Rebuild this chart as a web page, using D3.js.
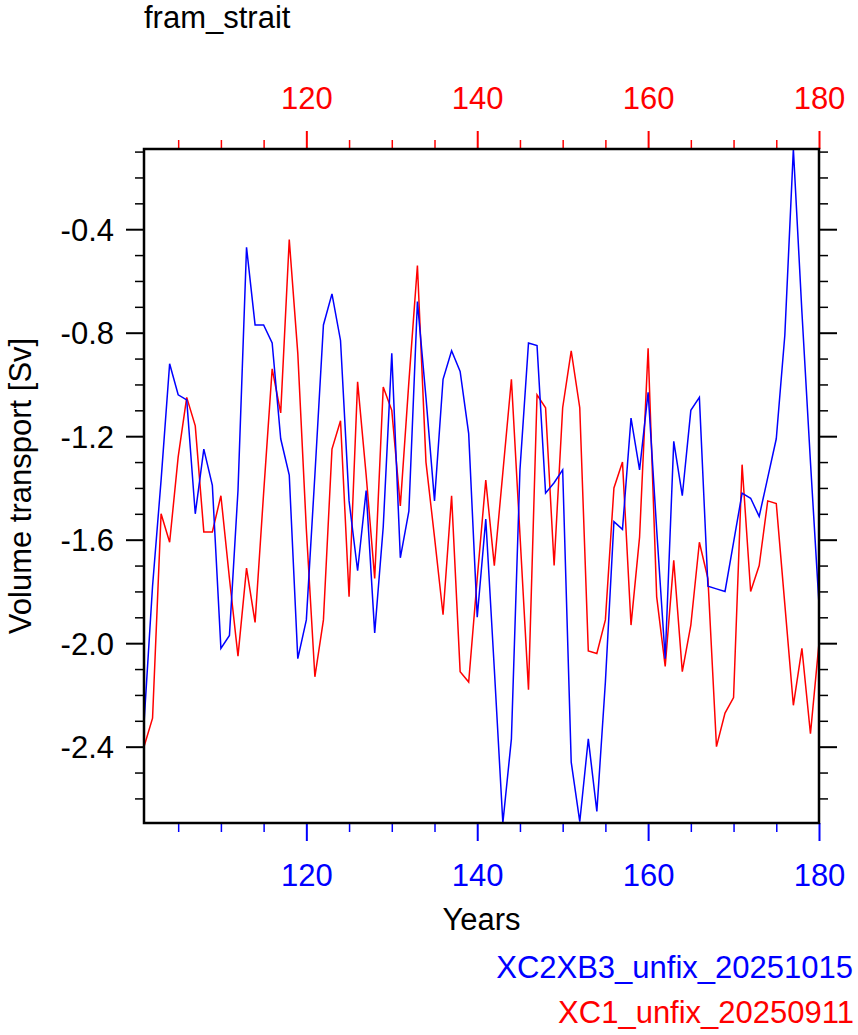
<!doctype HTML>
<html>
<head>
    <meta charset="utf-8">
    <style>
        body { margin: 0; background: #fff; }
        text { font-family: "Liberation Sans", Arial, Helvetica, sans-serif; }
    </style>
    <script src="https://d3js.org/d3.v7.min.js"></script>
</head>
<body>
<div id="chart"></div>
<script>

    // values
    var years = d3.range(101, 181);

    var blueSeries = [
        -2.31, -1.78, -1.37, -0.92, -1.04, -1.06, -1.50, -1.25, -1.39, -2.02,
        -1.97, -1.41, -0.47, -0.77, -0.77, -0.84, -1.21, -1.35, -2.06, -1.91,
        -1.35, -0.77, -0.65, -0.83, -1.45, -1.72, -1.41, -1.96, -1.55, -0.88,
        -1.67, -1.49, -0.68, -1.05, -1.45, -0.98, -0.87, -0.95, -1.19, -1.90,
        -1.52, -2.10, -2.695, -2.37, -1.33, -0.84, -0.85, -1.42, -1.38, -1.33,
        -2.46, -2.69, -2.37, -2.65, -2.15, -1.53, -1.56, -1.13, -1.33, -1.03,
        -1.56, -2.06, -1.22, -1.43, -1.10, -1.05, -1.78, -1.79, -1.80, -1.61,
        -1.42, -1.44, -1.51, -1.36, -1.21, -0.81, -0.09, -0.72, -1.30, -1.85
    ];

    var redSeries = [
        -2.40, -2.29, -1.50, -1.61, -1.28, -1.05, -1.16, -1.57, -1.57, -1.43,
        -1.75, -2.05, -1.71, -1.92, -1.42, -0.94, -1.11, -0.44, -0.88, -1.56,
        -2.13, -1.91, -1.25, -1.14, -1.82, -0.99, -1.35, -1.75, -1.01, -1.10,
        -1.47, -0.99, -0.54, -1.30, -1.59, -1.89, -1.43, -2.11, -2.15, -1.75,
        -1.37, -1.70, -1.34, -0.98, -1.58, -2.18, -1.04, -1.09, -1.70, -1.09,
        -0.87, -1.09, -2.03, -2.04, -1.91, -1.40, -1.30, -1.93, -1.59, -0.86,
        -1.82, -2.09, -1.68, -2.11, -1.93, -1.61, -1.75, -2.40, -2.27, -2.21,
        -1.31, -1.80, -1.70, -1.45, -1.46, -1.85, -2.24, -2.02, -2.35, -2.00
    ];

    var xMajorTicks = [120, 140, 160, 180];
    var xMinorTicks = [105, 110, 115, 125, 130, 135, 145, 150, 155, 165, 170, 175];
    var yMajorTicks = [-2.4, -2.0, -1.6, -1.2, -0.8, -0.4];
    var yMinorTicks = [-2.6, -2.5, -2.3, -2.2, -2.1, -1.9, -1.8, -1.7, -1.5, -1.4,
                       -1.3, -1.1, -1.0, -0.9, -0.7, -0.6, -0.5, -0.3, -0.2, -0.1];

    var titleText = "fram_strait";
    var yTitle = "Volume transport [Sv]";
    var xTitle = "Years";
    var blueName = "XC2XB3_unfix_20251015";
    var redName = "XC1_unfix_20250911";

    // canvas
    var canvasWidth = 858;
    var canvasHeight = 1035;
    var plotLeft = 144, plotRight = 819, plotTop = 149, plotBottom = 823;
    var fontSize = 31;

    var svg = d3.select("#chart").append("svg")
        .attr("width", canvasWidth)
        .attr("height", canvasHeight);

    var x = d3.scaleLinear().domain([101, 180]).range([plotLeft, plotRight]);
    var yExtent = d3.extent(blueSeries.concat(redSeries));
    var y = d3.scaleLinear().domain(yExtent).range([plotBottom, plotTop]);

    // draws one axis: major ticks with labels, minor ticks without
    function drawAxis(axisFn, scale, pos, major, minor, color, labels, fmt) {
        var g = svg.append("g").attr("transform", pos);
        g.call(axisFn(scale).tickValues(minor).tickSize(9).tickFormat(""));
        var gm = svg.append("g").attr("transform", pos);
        gm.call(axisFn(scale).tickValues(major).tickSize(18).tickFormat(labels ? fmt : ""));
        [g, gm].forEach(function(s) {
            s.select(".domain").remove();
            s.selectAll("line").attr("stroke", color);
        });
        g.selectAll("line").attr("stroke-width", 1.5);
        gm.selectAll("line").attr("stroke-width", 2);
        gm.selectAll("text")
            .attr("fill", color)
            .attr("font-size", fontSize)
            .style("font-family", "'Liberation Sans', Arial, sans-serif");
        return gm;
    }

    var fmtX = function(d) { return String(d); };
    var fmtY = function(d) { return d.toFixed(1); };   // plain hyphen like the original

    var bAx = drawAxis(d3.axisBottom, x, "translate(0," + plotBottom + ")", xMajorTicks, xMinorTicks, "#0000ff", true, fmtX);
    bAx.selectAll("text").attr("y", 63).attr("dy", 0);

    var tAx = drawAxis(d3.axisTop, x, "translate(0," + plotTop + ")", xMajorTicks, xMinorTicks, "#ff0000", true, fmtX);
    tAx.selectAll("text").attr("y", -40).attr("dy", 0);

    var lAx = drawAxis(d3.axisLeft, y, "translate(" + plotLeft + ",0)", yMajorTicks, yMinorTicks, "#000", true, fmtY);
    lAx.selectAll("text").attr("x", -30).attr("dy", "0.36em");

    drawAxis(d3.axisRight, y, "translate(" + plotRight + ",0)", yMajorTicks, yMinorTicks, "#000", false, fmtY);

    // data lines
    var line = function(series) {
        return d3.line()
            .x(function(d, i) { return x(years[i]); })
            .y(function(d) { return y(d); })(series);
    };

    svg.append("path")
        .attr("d", line(redSeries))
        .attr("fill", "none")
        .attr("stroke", "#ff0000")
        .attr("stroke-width", 1.5);

    svg.append("path")
        .attr("d", line(blueSeries))
        .attr("fill", "none")
        .attr("stroke", "#0000ff")
        .attr("stroke-width", 1.5);

    // frame
    svg.append("rect")
        .attr("x", plotLeft)
        .attr("y", plotTop)
        .attr("width", plotRight - plotLeft)
        .attr("height", plotBottom - plotTop)
        .attr("fill", "none")
        .attr("stroke", "#000")
        .attr("stroke-width", 2.5);

    // titles
    svg.append("text")
        .attr("x", plotLeft)
        .attr("y", 28)
        .attr("font-size", fontSize)
        .text(titleText);

    svg.append("text")
        .attr("transform", "translate(31," + ((plotTop + plotBottom) / 2) + ") rotate(-90)")
        .attr("text-anchor", "middle")
        .attr("font-size", fontSize)
        .text(yTitle);

    svg.append("text")
        .attr("x", (plotLeft + plotRight) / 2)
        .attr("y", 930)
        .attr("text-anchor", "middle")
        .attr("font-size", fontSize)
        .text(xTitle);

    // legend as right-aligned coloured names
    svg.append("text")
        .attr("x", 853)
        .attr("y", 978)
        .attr("text-anchor", "end")
        .attr("font-size", fontSize)
        .attr("fill", "#0000ff")
        .text(blueName);

    svg.append("text")
        .attr("x", 854)
        .attr("y", 1023)
        .attr("text-anchor", "end")
        .attr("font-size", fontSize)
        .attr("fill", "#ff0000")
        .text(redName);

</script>
</body>
</html>
